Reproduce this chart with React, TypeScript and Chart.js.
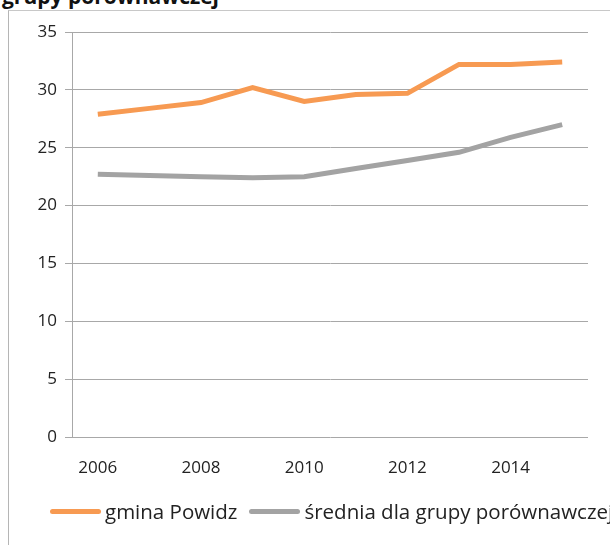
import React, { useEffect, useRef } from "react";
import { Chart, registerables } from "chart.js";

Chart.register(...registerables);

const years = ["2006", "2007", "2008", "2009", "2010", "2011", "2012", "2013", "2014", "2015"];
const gminaPowidz = [27.9, 28.4, 28.9, 30.2, 29.0, 29.6, 29.7, 32.2, 32.2, 32.4];
const sredniaGrupy = [22.7, 22.6, 22.5, 22.4, 22.5, 23.2, 23.9, 24.6, 25.9, 27.0];
const seriesNames = ["gmina Powidz", "średnia dla grupy porównawczej"];
const titleText = "grupy porównawczej";
const yTicks = { min: 0, max: 35, step: 5 };

const ORANGE = "#f79a52";
const GRAY = "#a3a3a3";
const FONT = "'Open Sans', Lato, sans-serif";

export default function App() {
  const canvasRef = useRef<HTMLCanvasElement | null>(null);

  useEffect(() => {
    if (!canvasRef.current) return;
    const chart = new Chart(canvasRef.current, {
      type: "line",
      data: {
        labels: years,
        datasets: [
          {
            label: seriesNames[0],
            data: gminaPowidz,
            borderColor: ORANGE,
            backgroundColor: ORANGE,
            borderWidth: 5,
            pointRadius: 0,
            tension: 0,
          },
          {
            label: seriesNames[1],
            data: sredniaGrupy,
            borderColor: GRAY,
            backgroundColor: GRAY,
            borderWidth: 5,
            pointRadius: 0,
            tension: 0,
          },
        ],
      },
      options: {
        animation: false,
        responsive: false,
        maintainAspectRatio: false,
        layout: { padding: { top: 21, right: 22, left: 0, bottom: 0 } },
        plugins: {
          legend: { display: false },
          tooltip: { enabled: false },
          title: { display: false },
        },
        scales: {
          x: {
            type: "category",
            offset: true,
            grid: { display: false, drawTicks: false },
            border: { display: false },
            ticks: {
              autoSkip: false,
              maxRotation: 0,
              padding: 21,
              color: "#222",
              font: { family: FONT, size: 17 },
              callback: (_v: any, i: number) => (i % 2 === 0 ? years[i] : ""),
            },
            afterFit: (s: any) => {
              s.height = 108;
            },
          },
          y: {
            min: yTicks.min,
            max: yTicks.max,
            ticks: {
              stepSize: yTicks.step,
              padding: 8,
              color: "#222",
              font: { family: FONT, size: 17 },
            },
            grid: { color: "#a8a8a8", lineWidth: 1, tickLength: 7 },
            border: { display: true, color: "#a8a8a8", width: 1 },
            afterFit: (s: any) => {
              s.width = 63;
            },
          },
        },
      },
    });
    return () => chart.destroy();
  }, []);

  return (
    <div style={{ position: "fixed", left: 0, top: 0, width: 610, height: 545, background: "#fff", overflow: "hidden", fontFamily: FONT }}>
      <div
        style={{
          position: "absolute",
          left: 2,
          top: -18,
          fontSize: 21,
          fontWeight: 700,
          color: "#111",
          whiteSpace: "nowrap",
          fontFamily: "'Open Sans', sans-serif",
        }}
      >
        {titleText}
      </div>
      <div
        style={{
          position: "absolute",
          left: 8,
          top: 10,
          width: 610,
          height: 545,
          borderLeft: "1px solid #b5b5b5",
          borderTop: "1px solid #c8c8c8",
          boxSizing: "border-box",
        }}
      />
      <canvas ref={canvasRef} width={601} height={534} style={{ position: "absolute", left: 9, top: 11 }} />
      <div style={{ position: "absolute", left: 50, top: 497, height: 28, display: "flex", alignItems: "center", fontSize: 20.5, color: "#222", whiteSpace: "nowrap" }}>
        <span style={{ display: "inline-block", width: 51, height: 5, borderRadius: 3, background: ORANGE, marginRight: 4 }} />
        <span style={{ marginRight: 12 }}>{seriesNames[0]}</span>
        <span style={{ display: "inline-block", width: 51, height: 5, borderRadius: 3, background: GRAY, marginRight: 4 }} />
        <span>{seriesNames[1]}</span>
      </div>
    </div>
  );
}
